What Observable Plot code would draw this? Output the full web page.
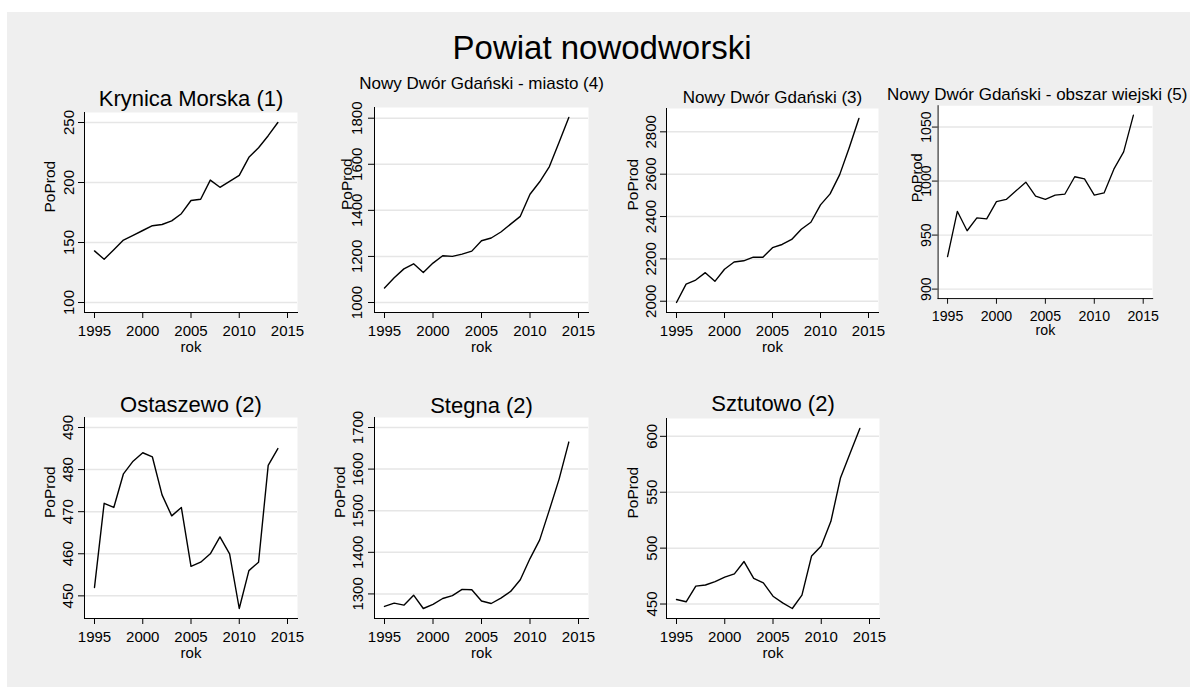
<!DOCTYPE html>
<html><head><meta charset="utf-8">
<script src="https://cdn.jsdelivr.net/npm/d3@7"></script>
<script src="https://cdn.jsdelivr.net/npm/@observablehq/plot@0.6"></script>
<style>
body{margin:0;background:#fff;font-family:"Liberation Sans",Arial,sans-serif;}
#wrap{position:relative;width:1190px;height:687px;overflow:hidden;background:#fff;}
#bg{position:absolute;left:7px;top:12px;right:0;bottom:0;background:#efefef;}
#title{position:absolute;left:14px;right:0;top:31px;text-align:center;font-size:33px;line-height:33px;color:#000;}
.panel{position:absolute;}
.panel svg{overflow:visible;}
</style></head>
<body>
<div id="wrap"><div id="bg"></div><div id="title">Powiat nowodworski</div></div>
<script>
const years = [1995,1996,1997,1998,1999,2000,2001,2002,2003,2004,2005,2006,2007,2008,2009,2010,2011,2012,2013,2014];
const xTicks = [1995,2000,2005,2010,2015];
const xLabel = "rok";
const yLabel = "PoProd";
const panelTitles = ["Krynica Morska (1)","Nowy Dwór Gdański - miasto (4)","Nowy Dwór Gdański (3)","Nowy Dwór Gdański - obszar wiejski (5)","Ostaszewo (2)","Stegna (2)","Sztutowo (2)"];
const krynicaMorska = [143,136,144,152,156,160,164,165,168,174,185,186,202,196,201,206,221,229,239,250];
const ndgMiasto = [1063,1107,1146,1168,1130,1171,1203,1200,1210,1223,1268,1280,1306,1340,1374,1470,1524,1590,1696,1803];
const ndgGmina = [1994,2081,2100,2135,2094,2151,2185,2191,2208,2208,2253,2268,2292,2340,2373,2455,2507,2598,2726,2863];
const ndgWiejski = [930,972,954,966,965,981,983,991,999,986,983,987,988,1004,1002,987,989,1011,1027,1061];
const ostaszewo = [452,472,471,479,482,484,483,474,469,471,457,458,460,464,460,447,456,458,481,485];
const stegna = [1270,1278,1273,1297,1265,1275,1289,1296,1311,1310,1283,1277,1290,1306,1334,1385,1430,1502,1576,1665];
const sztutowo = [454,452,466,467,470,474,477,488,473,469,457,451,446,458,493,502,524,563,585,607];
const yTicks1 = [100,150,200,250];
const yTicks2 = [1000,1200,1400,1600,1800];
const yTicks3 = [2000,2200,2400,2600,2800];
const yTicks4 = [900,950,1000,1050];
const yTicks5 = [450,460,470,480,490];
const yTicks6 = [1300,1400,1500,1600,1700];
const yTicks7 = [450,500,550,600];

const series = [krynicaMorska, ndgMiasto, ndgGmina, ndgWiejski, ostaszewo, stegna, sztutowo];
const ticksList = [yTicks1, yTicks2, yTicks3, yTicks4, yTicks5, yTicks6, yTicks7];

// layout (frame positions in page px, text placement)
const layout = [
  {x0:84, x1:297, y0:112, y1:312, tf:22, tdy:-7, tdx:0, pad:5, ldx:-30},
  {x0:374, x1:588, y0:107, y1:312, tf:17, tdy:-19, tdx:0, pad:6.6, ldx:-22.6},
  {x0:666, x1:878, y0:108, y1:312, tf:17, tdy:-5.5, tdx:0, pad:5, ldx:-29},
  {x0:942, x1:1169, y0:108, y1:312, tf:18, tdy:-6, tdx:-54, start:true, pad:1.5, ldx:-17.3},
  {x0:84, x1:297, y0:417, y1:618, tf:22, tdy:-5.3, tdx:0, pad:5.3, ldx:-30},
  {x0:374, x1:588, y0:417, y1:618, tf:22, tdy:-4.5, tdx:0, pad:6, ldx:-30},
  {x0:666, x1:879, y0:418, y1:618, tf:22, tdy:-7.5, tdx:0, pad:4, ldx:-29}
];

const wrap = document.getElementById("wrap");
const M = {l:80, r:40, t:50, b:50};
const font = "Liberation Sans, Arial, sans-serif";

series.forEach((values, k) => {
  const L = layout[k];
  const ticks = ticksList[k];
  const data = years.map((y, i) => ({rok: y, v: values[i]}));
  const lo = Math.min(d3.min(values), ticks[0]);
  const hi = Math.max(d3.max(values), ticks[ticks.length - 1]);
  const W = L.x1 - L.x0, H = L.y1 - L.y0;
  const svg = Plot.plot({
    width: W + M.l + M.r, height: H + M.t + M.b,
    marginLeft: M.l, marginRight: M.r, marginTop: M.t, marginBottom: M.b,
    style: {background: "transparent", fontFamily: font, overflow: "visible", color: "#000"},
    x: {domain: [xTicks[0], xTicks[xTicks.length - 1]], inset: 10},
    y: {domain: [lo, hi], inset: 10},
    marks: [
      Plot.frame({fill: "white", stroke: null}),
      Plot.gridY(ticks, {stroke: "#e6e6e6", strokeWidth: 1.5, strokeOpacity: 1}),
      Plot.axisX(xTicks, {tickSize: 6, tickPadding: 7, tickFormat: d => String(d), fontSize: 15, label: null, stroke: "#000", fill: "#000"}),
      Plot.axisY(ticks, {tickSize: 6, tickPadding: L.pad, tickRotate: -90, tickFormat: d => String(d), fontSize: 15, label: null, stroke: "#000", fill: "#000"}),
      Plot.frame({anchor: "left", stroke: "#000", strokeWidth: 1}),
      Plot.frame({anchor: "bottom", stroke: "#000", strokeWidth: 1}),
      Plot.line(data, {x: "rok", y: "v", stroke: "#000", strokeWidth: 1.4}),
      Plot.text([panelTitles[k]], {text: d => d, frameAnchor: L.start ? "top-left" : "top", textAnchor: L.start ? "start" : "middle", lineAnchor: "bottom", dx: L.tdx, dy: L.tdy, fontSize: L.tf, fill: "#000"}),
      Plot.text([xLabel], {text: d => d, frameAnchor: "bottom", lineAnchor: "bottom", dy: 39, fontSize: 15, fill: "#000"}),
      Plot.text([yLabel], {text: d => d, frameAnchor: "left", rotate: -90, lineAnchor: "bottom", dx: L.ldx, fontSize: 15.5, fill: "#000"})
    ]
  });
  const div = document.createElement("div");
  div.className = "panel";
  div.style.left = (L.x0 - M.l) + "px";
  div.style.top = (L.y0 - M.t) + "px";
  div.appendChild(svg);
  wrap.appendChild(div);
});
</script>
</body></html>
